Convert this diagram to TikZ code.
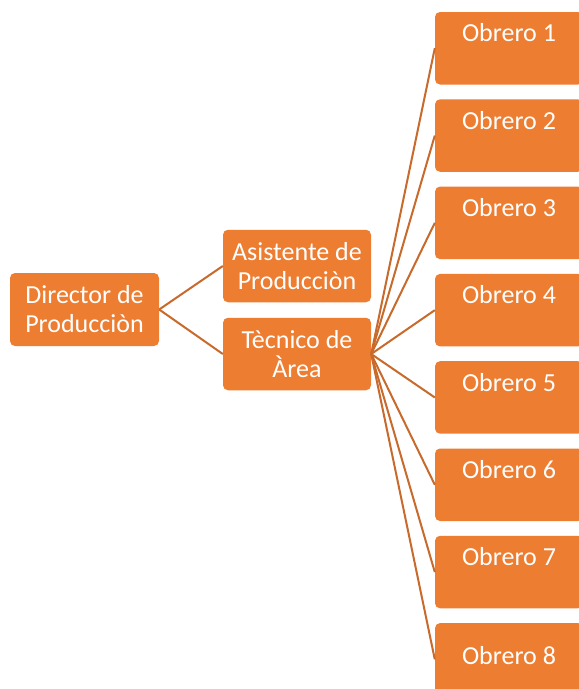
\documentclass[tikz,border=0pt]{standalone}
\usepackage{fontspec}
\setmainfont{Carlito}
\definecolor{boxfill}{RGB}{237,125,49}
\definecolor{linkcol}{RGB}{200,106,44}
\begin{document}
\begin{tikzpicture}[x=1pt,y=-1pt,
  box/.style={draw=none,fill=boxfill,rounded corners=5pt,inner sep=0pt,
    minimum width=148pt,minimum height=72.5pt,text=white,
    font=\fontsize{26}{29}\selectfont,align=center},
  otext/.style={text=white,font=\fontsize{26}{29}\selectfont,anchor=base,inner sep=0pt},
  link/.style={draw=linkcol,line width=2pt}]
\useasboundingbox (0,0) rectangle (579,689);
\clip (0,0) rectangle (579,689);
\fill[white] (0,0) rectangle (579,689);
\node[box,minimum width=149pt,minimum height=73pt] (dir) at (84.5,309.5) {Director de\\Producciòn};
\node[box] (asi) at (297,266) {Asistente de\\Producciòn};
\node[box] (tec) at (297,354) {Tècnico de\\Àrea};
\foreach \i in {1,...,8}{
  \pgfmathsetmacro{\yc}{12+36.25+(\i-1)*87.3}
  \node[box] (o\i) at (509,\yc) {};
}
\foreach \i in {1,...,7}{
  \node[otext] (t\i) at ([yshift=-30pt]o\i.north) {Obrero \i};
}
\node[otext] (t8) at ([yshift=-42pt]o8.north) {Obrero 8};
\draw[link] (dir.east) -- (asi.west);
\draw[link] (dir.east) -- (tec.west);
\foreach \i in {1,...,8}{
  \draw[link] (tec.east) -- (o\i.west);
}
\end{tikzpicture}
\end{document}
